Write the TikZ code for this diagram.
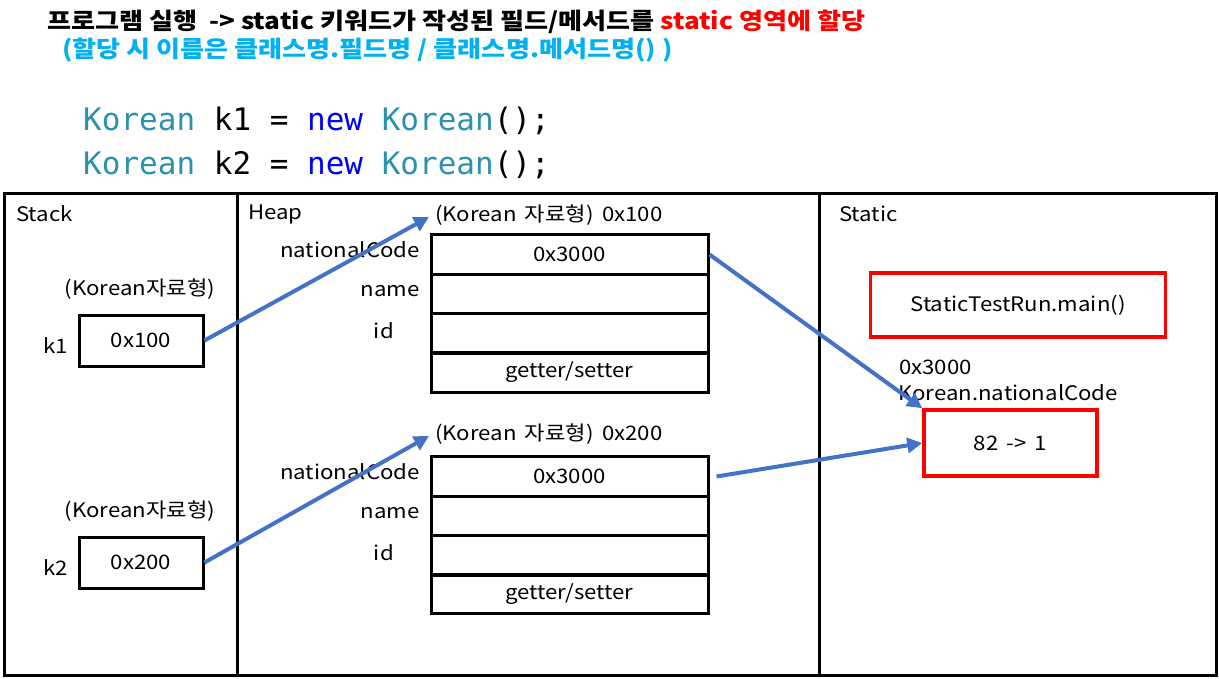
\documentclass[tikz,border=0pt]{standalone}
\usepackage{fontspec}
\setmainfont{Noto Sans CJK KR}[FakeStretch=1.11]
\newfontfamily\titlefont{Noto Sans CJK KR}[FakeStretch=1.135]
\newfontfamily\codefont{DejaVu Sans Mono}
\usetikzlibrary{arrows.meta}
\definecolor{arrblue}{RGB}{68,114,196}
\definecolor{codeteal}{RGB}{43,145,175}
\definecolor{codeblue}{RGB}{0,0,255}
\definecolor{titlecyan}{RGB}{0,176,240}
\definecolor{myred}{RGB}{255,0,0}
\tikzset{
  frame/.style={draw=black,line width=3pt},
  cell/.style={draw=black,line width=3pt,minimum width=277pt,minimum height=39.5pt,inner sep=0pt,font=\fontsize{20}{24}\selectfont},
  varbox/.style={draw=black,line width=3pt,minimum width=124pt,minimum height=51pt,inner sep=0pt,font=\fontsize{20}{24}\selectfont},
  redbox/.style={draw=myred,line width=3.5pt,inner sep=0pt,font=\fontsize{20}{24}\selectfont},
  lbl/.style={inner sep=0pt,font=\fontsize{20}{24}\selectfont},
  arr/.style={draw=arrblue,line width=4pt,-{Triangle[length=15pt,width=15pt]}},
  titletext/.style={inner sep=0pt,anchor=west,font=\titlefont\bfseries\fontsize{23}{27}\selectfont},
  codeline/.style={inner sep=0pt,anchor=west,font=\codefont\fontsize{31}{36}\selectfont}
}
\begin{document}
\begin{tikzpicture}[x=1pt,y=-1pt]
\useasboundingbox (0,0) rectangle (1219,678);
% title
\node[titletext] (title) at (47,22)
  {프로그램 실행 \ -> static 키워드가 작성된 필드/메서드를 \textcolor{myred}{static 영역에 할당}};
\node[titletext,text=titlecyan] (sub) at (62,50)
  {(할당 시 이름은 클래스명.필드명 / 클래스명.메서드명() )};
% code
\node[codeline] (c1) at (83,121) {\textcolor{codeteal}{Korean} k1 = \textcolor{codeblue}{new} \textcolor{codeteal}{Korean}();};
\node[codeline] (c2) at (83,165) {\textcolor{codeteal}{Korean} k2 = \textcolor{codeblue}{new} \textcolor{codeteal}{Korean}();};
% frame
\draw[frame] (4,193) rectangle (1216,675);
\draw[frame] (237,193) -- (237,675);
\draw[frame] (819,193) -- (819,675);
\node[lbl,anchor=west] (lstack) at (16,214) {Stack};
\node[lbl,anchor=west] (lheap) at (248,214) {Heap};
\node[lbl,anchor=west] (lstatic) at (839,214) {Static};
% stack
\node[lbl] (t1) at (140,289) {(Korean자료형)};
\node[varbox] (k1) at (141,340.5) {0x100};
\node[lbl,anchor=east] (n1) at (68,346) {k1};
\node[lbl] (t2) at (140,511) {(Korean자료형)};
\node[varbox] (k2) at (141,562.5) {0x200};
\node[lbl,anchor=east] (n2) at (68,568) {k2};
% heap object 1
\node[lbl,anchor=west] (h1) at (435,215) {(Korean \,자료형) \,0x100};
\node[cell] (a1) at (569.5,254.5) {0x3000};
\node[cell] (b1) at (569.5,294) {};
\node[cell] (c1c) at (569.5,333.5) {};
\node[cell] (d1) at (569.5,372.5) {getter/setter};
\node[lbl,anchor=east] (f1a) at (420,250) {nationalCode};
\node[lbl,anchor=east] (f1b) at (420,291) {name};
\node[lbl,anchor=east] (f1c) at (394,331) {id};
% heap object 2
\node[lbl,anchor=west] (h2) at (435,434) {(Korean \,자료형) \,0x200};
\node[cell] (a2) at (569.5,476.5) {0x3000};
\node[cell] (b2) at (569.5,516) {};
\node[cell] (c2c) at (569.5,555.5) {};
\node[cell] (d2) at (569.5,594) {getter/setter};
\node[lbl,anchor=east] (f2a) at (420,472) {nationalCode};
\node[lbl,anchor=east] (f2b) at (420,513) {name};
\node[lbl,anchor=east] (f2c) at (394,553) {id};
% static
\node[redbox,minimum width=295pt,minimum height=64pt] (sm) at (1018,305) {StaticTestRun.main()};
\node[lbl,anchor=west] (s1) at (899,367) {0x3000};
\node[lbl,anchor=west] (s2) at (898,393) {Korean.nationalCode};
\node[redbox,minimum width=173pt,minimum height=66pt] (sv) at (1010.5,443) {82 \,-> \,1};
% arrows
\draw[arr] (k1.east) -- ([xshift=-6pt,yshift=-2pt]h1.west);
\draw[arr] (k2.east) -- ([xshift=-6pt,yshift=-2pt]h2.west);
\draw[arr] (a1.east) -- (sv.north west);
\draw[arr] ([xshift=7pt]a2.east) -- (sv.west);
\end{tikzpicture}
\end{document}
